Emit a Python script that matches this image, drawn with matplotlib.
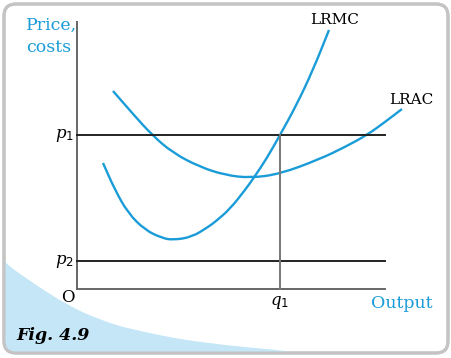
import numpy as np
import matplotlib
matplotlib.use("Agg")
import matplotlib.pyplot as plt
from matplotlib.patches import FancyBboxPatch, PathPatch
from matplotlib.path import Path

plt.rcParams["mathtext.fontset"] = "dejavuserif"

# --- dados (unidades arbitrárias de produto / preço) ---
lrmc_q = [26, 38, 51, 68, 85, 96, 115, 131, 138, 153, 168, 176, 190, 203, 219, 236, 252]
lrmc_c = [126, 99, 76, 59, 51, 49, 52, 62, 67, 80, 99, 110, 131, 154, 183, 219, 259]

lrac_q = [36, 56, 75, 96, 123, 148, 173, 203, 243, 268, 290, 308, 325]
lrac_c = [198, 175, 154, 136, 122, 114, 111, 115, 130, 142, 154, 167, 180]

p1 = 154
p2 = 28
q1 = 203
x_max = 308
y_max = 267

# faixa azul decorativa no canto (pixels da figura)
faixa_x = [0, 3, 33, 67, 100, 133, 200, 300, 330]
faixa_y = [250, 262, 283, 305, 320, 330, 343, 352, 358]

AZUL = "#1a9cd8"


def caminho_suave(xs, ys):
    """Curva quadrática suave usando os pontos lidos como controles."""
    pts = np.column_stack([xs, ys]).astype(float)
    verts = [pts[0]]
    codes = [Path.MOVETO]
    mids = (pts[:-1] + pts[1:]) / 2
    verts.append(mids[0])
    codes.append(Path.LINETO)
    for i in range(1, len(pts) - 1):
        verts += [pts[i], mids[i]]
        codes += [Path.CURVE3, Path.CURVE3]
    verts.append(pts[-1])
    codes.append(Path.LINETO)
    return Path(verts, codes)


fig = plt.figure(figsize=(4.52, 3.58), dpi=100)

# fundo: moldura arredondada + faixa azul
bg = fig.add_axes([0, 0, 1, 1])
bg.set_xlim(0, 452)
bg.set_ylim(358, 0)
bg.axis("off")
moldura = FancyBboxPatch((4, 4), 444, 349, boxstyle="round,pad=0,rounding_size=12",
                         facecolor="white", edgecolor="#c4c4c4", linewidth=2.2, zorder=0)
bg.add_patch(moldura)

borda = caminho_suave(faixa_x, faixa_y)
verts_faixa = list(borda.vertices) + [(452, 358), (0, 358), (0, 250)]
codes_faixa = list(borda.codes) + [Path.LINETO, Path.LINETO, Path.CLOSEPOLY]
faixa = PathPatch(Path(verts_faixa, codes_faixa), facecolor="#c4e6f7", edgecolor="none", zorder=1)
bg.add_patch(faixa)
faixa.set_clip_path(moldura)
moldura_borda = FancyBboxPatch((4, 4), 444, 349, boxstyle="round,pad=0,rounding_size=12",
                               facecolor="none", edgecolor="#c4c4c4", linewidth=2.2, zorder=2)
bg.add_patch(moldura_borda)

bg.text(26, 25, "Price,", color=AZUL, fontsize=12.5, family="DejaVu Serif", va="center", ha="left")
bg.text(26, 47, "costs", color=AZUL, fontsize=12.5, family="DejaVu Serif", va="center", ha="left")
bg.text(433, 304, "Output", color=AZUL, fontsize=12.5, family="DejaVu Serif", va="center", ha="right")
bg.text(16, 335, "Fig. 4.9", fontsize=12.5, family="DejaVu Serif", weight="bold", style="italic",
        va="center", ha="left", zorder=3)

# gráfico principal (origem em px 77, 289)
ax = fig.add_axes([0, 0, 1, 1])
ax.set_xlim(-77, 375)
ax.set_ylim(-69, 289)
ax.patch.set_alpha(0)
ax.axis("off")

ax.plot([0, 0], [0, y_max], color="#666666", lw=1.4)
ax.plot([0, x_max], [0, 0], color="#666666", lw=1.4)
ax.plot([0, x_max], [p1, p1], color="#222222", lw=1.4)
ax.plot([0, x_max], [p2, p2], color="#222222", lw=1.4)
ax.plot([q1, q1], [0, p1], color="#777777", lw=1.4)

for qs, cs in [(lrmc_q, lrmc_c), (lrac_q, lrac_c)]:
    ax.add_patch(PathPatch(caminho_suave(qs, cs), facecolor="none", edgecolor=AZUL, lw=1.7,
                           capstyle="butt"))

ax.text(258, 269, "LRMC", fontsize=11, family="DejaVu Serif", ha="center", va="center")
ax.text(334, 189, "LRAC", fontsize=11, family="DejaVu Serif", ha="center", va="center")

ax.text(-3, p1, r"$p_{\mathregular{1}}$", fontsize=12, ha="right", va="center")
ax.text(-3, p2, r"$p_{\mathregular{2}}$", fontsize=12, ha="right", va="center")
ax.text(-9, -8, "O", fontsize=12, family="DejaVu Serif", ha="center", va="center")
ax.text(q1, -13, r"$q_{\mathregular{1}}$", fontsize=12, ha="center", va="center")

fig.savefig("out.png", dpi=100)
